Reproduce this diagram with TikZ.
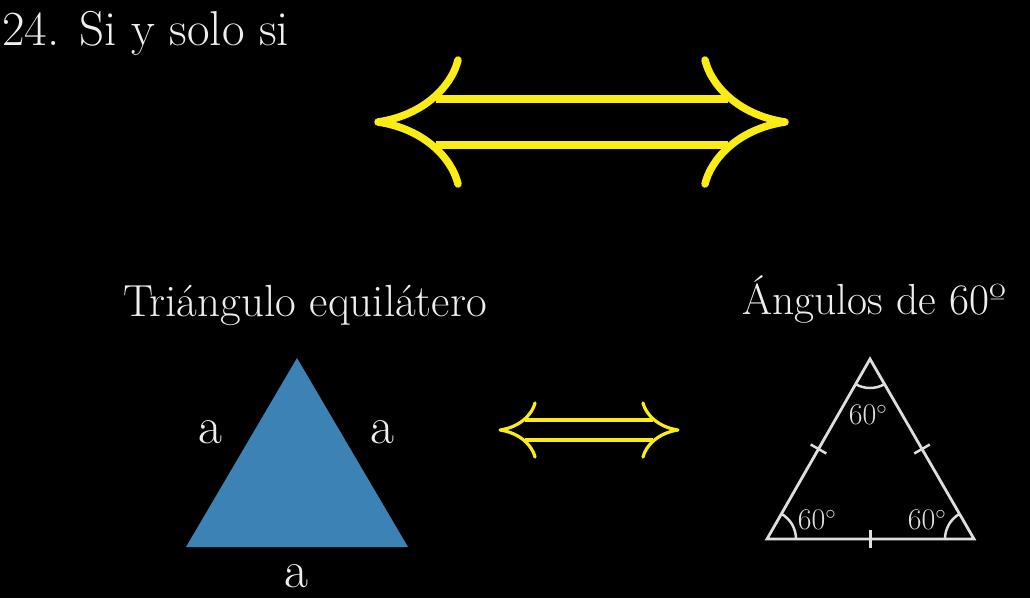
\documentclass[tikz,border=0pt]{standalone}
\usetikzlibrary{calc}
\definecolor{myyellow}{RGB}{250,236,20}
\definecolor{myblue}{RGB}{60,130,180}
\definecolor{mywhite}{RGB}{238,238,238}
\definecolor{mygray}{RGB}{222,222,222}
\tikzset{
  iffarrow/.pic={
    \draw[line cap=round, line join=round]
      (-123.5,-62) .. controls (-129.5,-37) and (-156.5,-7) .. (-203.5,0)
      .. controls (-156.5,7) and (-129.5,37) .. (-123.5,62);
    \draw[line cap=round, line join=round]
      (123.5,-62) .. controls (129.5,-37) and (156.5,-7) .. (203.5,0)
      .. controls (156.5,7) and (129.5,37) .. (123.5,62);
    \draw (-146,-23) -- (146,-23);
    \draw (-146,23) -- (146,23);
  },
  txt/.style={text=mywhite, inner sep=0pt, anchor=base},
}
\begin{document}
\begin{tikzpicture}[x=1pt,y=-1pt]
\fill[black] (0,0) rectangle (1030,598);
\useasboundingbox (0,0) rectangle (1030,598);

% title
\node[txt, anchor=base west, font=\fontsize{49}{58}\selectfont] (title) at (2,45) {24. Si y solo si};

% big arrow
\pic[draw=myyellow, line width=7.5pt] at (581.5,122) {iffarrow};

% labels
\node[txt, font=\fontsize{45}{54}\selectfont] (lab1) at (305,316) {Triángulo equilátero};
\node[txt, font=\fontsize{43.5}{52}\selectfont] (lab2) at (874,314) {Ángulos de 60º};

% blue triangle
\coordinate (bA) at (297,358);
\coordinate (bB) at (186,547);
\coordinate (bC) at (408,547);
\fill[myblue] (bA) -- (bB) -- (bC) -- cycle;
\node[txt, font=\fontsize{52}{60}\selectfont] (a1) at (210,443) {a};
\node[txt, font=\fontsize{52}{60}\selectfont] (a2) at (382,443) {a};
\node[txt, font=\fontsize{52}{60}\selectfont] (a3) at (296,587) {a};

% small arrow
\pic[draw=myyellow, line width=3.2pt, scale=0.437] at (589,430) {iffarrow};

% outlined triangle
\coordinate (T) at (870,359);
\coordinate (L) at (767,539);
\coordinate (R) at (974,539);
\draw[mygray, line width=2.8pt, line join=miter] (T) -- (L) -- (R) -- cycle;
\draw[mygray, line width=2.5pt] ($(T)+(60:29)$) arc[start angle=60, end angle=120, radius=29];
\draw[mygray, line width=2.5pt] ($(L)+(0:29)$) arc[start angle=0, end angle=-60, radius=29];
\draw[mygray, line width=2.5pt] ($(R)+(180:29)$) arc[start angle=180, end angle=240, radius=29];
% ticks
\draw[mygray, line width=2.5pt] (810.7,444.5) -- (826.3,453.5);
\draw[mygray, line width=2.5pt] (914.2,453.5) -- (929.8,444.5);
\draw[mygray, line width=2.5pt] (870.5,530) -- (870.5,548);
% angle labels
\node[txt, text=mygray, font=\fontsize{30}{36}\selectfont] (g1) at (868,424) {60$^\circ$};
\node[txt, text=mygray, font=\fontsize{30}{36}\selectfont] (g2) at (817,529) {60$^\circ$};
\node[txt, text=mygray, font=\fontsize{30}{36}\selectfont] (g3) at (927,529) {60$^\circ$};
\end{tikzpicture}
\end{document}
